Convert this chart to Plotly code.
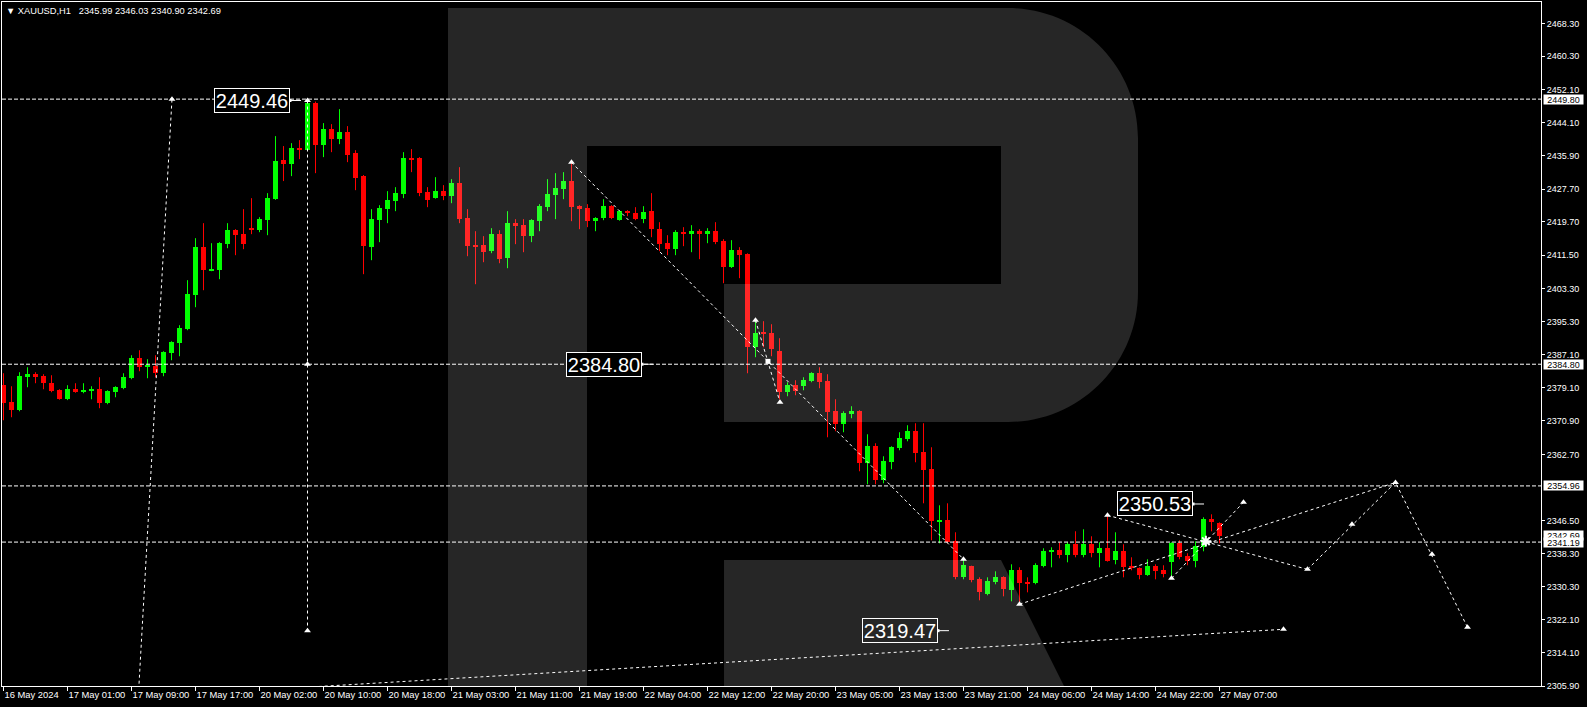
import plotly.graph_objects as go

# ---------------- data ----------------
opens = [2379.65,2375.48,2373.52,2381.61,2382.35,2381.86,2380.14,2378.42,2376.21,2378.67,
         2377.93,2378.18,2378.67,2375.23,2377.93,2378.91,2381.37,2386.27,2384.06,2384.31,
         2382.59,2387.50,2389.95,2393.39,2401.73,2413.50,2407.86,2407.86,2414.24,2417.67,
         2416.69,2418.16,2417.67,2420.12,2425.27,2434.84,2433.86,2437.78,2437.29,2448.80,
         2438.52,2442.45,2440.00,2441.71,2436.56,2430.92,2413.50,2420.12,2422.82,2424.78,
         2426.50,2435.33,2435.33,2426.99,2425.52,2427.24,2426.01,2429.20,2420.61,2413.99,
         2413.99,2412.52,2416.69,2410.80,2419.39,2418.90,2416.20,2419.88,2423.31,2426.26,
         2427.73,2429.69,2423.56,2423.07,2419.88,2420.61,2423.56,2420.12,2422.33,2421.84,
         2420.37,2422.33,2417.92,2414.48,2413.01,2417.18,2416.93,2417.42,2416.93,2417.42,
         2414.97,2408.59,2412.76,2411.78,2388.97,2392.50,2392.40,2387.99,2377.93,2379.65,
         2379.40,2380.63,2382.59,2380.63,2373.27,2370.08,2372.54,2373.27,2360.52,2364.69,
         2356.35,2360.76,2364.20,2366.40,2368.37,2363.21,2359.04,2346.29,2346.53,2341.38,
         2332.55,2335.25,2332.06,2328.38,2331.33,2332.55,2329.36,2334.27,2331.33,2331.08,
         2335.25,2338.68,2339.18,2337.95,2340.65,2337.95,2340.65,2338.44,2339.67,2336.72,
         2338.93,2335.25,2334.76,2333.04,2335.25,2334.27,2336.23,2340.89,2337.70,2336.48,
         2339.91,2346.78,2345.99]
highs = [2382.59,2379.40,2382.84,2384.06,2382.84,2382.35,2382.10,2378.67,2379.65,2380.14,
         2380.14,2379.40,2381.61,2378.42,2379.40,2382.59,2387.01,2388.23,2386.03,2387.01,
         2387.99,2390.44,2394.37,2405.41,2415.71,2419.39,2414.48,2414.73,2419.39,2417.92,
         2422.82,2425.52,2420.86,2426.75,2440.73,2438.29,2439.01,2439.75,2449.46,2449.20,
         2443.92,2443.67,2447.35,2443.18,2437.29,2431.20,2422.82,2423.80,2427.24,2428.22,
         2436.80,2437.54,2435.58,2428.22,2430.67,2428.71,2430.18,2433.12,2422.82,2417.42,
         2416.20,2418.16,2417.67,2422.33,2420.37,2420.37,2420.37,2424.05,2430.18,2431.65,
         2431.90,2434.30,2423.80,2424.05,2420.86,2425.27,2423.80,2422.57,2422.57,2423.31,
         2423.56,2426.75,2419.63,2416.44,2417.67,2418.41,2418.90,2417.92,2418.16,2419.63,
         2415.46,2415.22,2413.50,2412.00,2395.35,2395.35,2394.61,2391.18,2380.38,2380.88,
         2381.61,2382.84,2384.06,2382.35,2376.21,2373.27,2374.50,2373.52,2367.63,2365.42,
         2362.23,2364.69,2368.12,2369.84,2370.33,2370.33,2364.44,2350.21,2350.70,2343.59,
         2337.21,2335.40,2332.55,2332.55,2334.02,2332.80,2335.74,2335.00,2332.55,2335.99,
         2339.67,2339.91,2341.14,2341.14,2343.84,2344.33,2342.61,2341.14,2347.76,2343.59,
         2340.65,2337.46,2335.00,2336.97,2335.74,2335.50,2341.14,2341.63,2338.44,2341.38,
         2347.27,2348.00,2346.03]
lows = [2371.06,2371.80,2373.27,2379.16,2380.14,2378.67,2377.93,2376.10,2376.00,2377.80,
        2377.69,2376.21,2374.01,2374.99,2376.70,2378.67,2381.12,2383.08,2381.37,2381.61,
        2381.86,2385.78,2386.76,2393.14,2398.78,2402.95,2407.61,2405.65,2413.25,2411.54,
        2413.01,2416.69,2417.18,2416.44,2425.10,2429.71,2430.92,2435.09,2437.20,2431.65,
        2435.58,2436.80,2438.77,2434.35,2427.48,2406.88,2410.31,2414.73,2419.39,2422.33,
        2425.52,2431.90,2426.01,2423.31,2425.40,2425.03,2424.29,2419.39,2411.29,2404.42,
        2409.82,2412.03,2409.57,2408.35,2414.24,2412.27,2414.73,2417.42,2422.33,2420.37,
        2425.27,2419.88,2417.92,2418.41,2417.42,2420.12,2420.37,2420.00,2421.10,2420.12,
        2419.39,2415.95,2412.52,2411.54,2411.54,2413.75,2412.27,2410.56,2414.48,2414.24,
        2404.67,2408.40,2405.90,2382.59,2386.52,2388.97,2386.76,2376.20,2376.95,2377.20,
        2378.42,2380.38,2378.91,2366.89,2368.37,2368.12,2371.55,2358.55,2355.36,2355.36,
        2355.61,2359.04,2363.70,2365.91,2360.76,2350.70,2341.63,2340.89,2340.89,2332.06,
        2332.06,2331.33,2326.91,2328.14,2330.84,2327.89,2326.67,2325.95,2328.87,2330.84,
        2335.00,2335.00,2337.21,2336.23,2337.46,2337.46,2337.46,2335.00,2336.40,2335.74,
        2332.55,2334.27,2332.06,2332.90,2332.06,2332.55,2332.30,2336.97,2335.50,2335.00,
        2338.93,2343.84,2340.90]
closes = [2375.23,2373.52,2381.86,2382.35,2381.61,2380.14,2378.18,2376.21,2378.67,2377.93,
          2378.42,2378.67,2375.23,2378.18,2379.16,2381.61,2386.27,2384.06,2384.55,2382.59,
          2387.74,2390.20,2393.63,2401.97,2413.50,2407.86,2408.10,2414.48,2417.67,2416.44,
          2414.24,2417.67,2420.37,2425.52,2434.60,2433.86,2437.78,2437.29,2448.80,2438.52,
          2442.45,2440.00,2441.71,2436.07,2430.43,2413.75,2420.37,2423.07,2425.03,2426.75,
          2435.33,2435.09,2426.75,2425.03,2427.24,2426.01,2429.20,2420.37,2413.75,2413.75,
          2412.27,2416.69,2410.56,2419.39,2418.65,2416.20,2420.12,2423.56,2426.50,2427.97,
          2429.69,2423.31,2422.82,2419.88,2420.61,2423.56,2420.61,2422.33,2421.84,2420.37,
          2422.08,2417.92,2414.24,2413.01,2417.18,2416.93,2417.42,2416.93,2417.42,2414.73,
          2408.59,2412.76,2411.54,2388.97,2392.40,2392.30,2388.48,2377.93,2379.65,2378.18,
          2380.88,2382.59,2380.38,2373.03,2370.08,2372.78,2373.27,2360.52,2364.69,2356.35,
          2361.01,2364.44,2366.65,2368.37,2362.97,2358.80,2346.29,2346.53,2341.14,2332.55,
          2335.50,2331.82,2328.87,2331.57,2332.55,2329.61,2334.27,2331.08,2331.08,2335.50,
          2338.93,2339.18,2337.95,2340.65,2337.95,2340.65,2338.44,2339.67,2336.48,2338.93,
          2335.00,2334.76,2333.04,2335.25,2334.02,2333.29,2340.89,2337.46,2336.48,2340.16,
          2346.78,2346.30,2342.69]

x_tick_labels = ["16 May 2024", "17 May 01:00", "17 May 09:00", "17 May 17:00", "20 May 02:00",
                 "20 May 10:00", "20 May 18:00", "21 May 03:00", "21 May 11:00", "21 May 19:00",
                 "22 May 04:00", "22 May 12:00", "22 May 20:00", "23 May 05:00", "23 May 13:00",
                 "23 May 21:00", "24 May 06:00", "24 May 14:00", "24 May 22:00", "27 May 07:00"]
x_tick_step = 8

y_tick_values = [2468.30, 2460.30, 2452.10, 2444.10, 2435.90, 2427.70, 2419.70, 2411.50, 2403.30,
                 2395.30, 2387.10, 2379.10, 2370.90, 2362.70, 2346.50, 2338.30, 2330.30,
                 2322.10, 2314.10, 2305.90]

h_levels = [2449.80, 2384.80, 2354.96, 2341.19]          # dashed horizontal lines
axis_value_boxes = [2449.80, 2384.80, 2354.96, 2342.69, 2341.19]

big_label_text = ["2449.46", "2384.80", "2350.53", "2319.47"]
big_label_price = [2449.46, 2384.80, 2350.53, 2319.47]
big_label_bar = [35.81, 79.81, 148.69, 116.81]

# dotted analysis lines: (bar positions, prices)
trend_lines = [
    ([16.9, 21.06], [2305.0, 2449.80]),
    ([38.0, 38.0], [2449.46, 2319.47]),
    ([71.0, 120.0], [2434.30, 2337.00]),
    ([94.0, 97.06], [2395.60, 2375.50]),
    ([127.0, 174.0], [2325.95, 2355.80]),
    ([138.0, 163.0], [2347.76, 2334.50]),
    ([146.0, 155.0], [2332.30, 2350.95]),
    ([163.0, 174.0, 183.0], [2334.50, 2355.80, 2320.30]),
    ([37.9, 160.0], [2305.60, 2319.80]),
]
arrow_bars = [21.06, 38.0, 38.0, 38.0, 71.0, 120.0, 94.0, 97.06, 127.0, 174.0, 138.0, 163.0,
              146.0, 155.0, 168.56, 178.56, 183.0, 160.0]
arrow_prices = [2449.80, 2449.46, 2384.80, 2319.47, 2434.30, 2337.00, 2395.60, 2375.50, 2325.95,
                2355.80, 2347.76, 2334.50, 2332.30, 2350.95, 2345.55, 2338.20, 2320.30, 2319.80]
square_bars = [95.56]
square_prices = [2385.50]
hub_bar = [150.3]
hub_price = [2341.40]

title_text = "▼ XAUUSD,H1\u00a0\u00a0 2345.99 2346.03 2340.90 2342.69"

# ---------------- figure ----------------
W, H = 1587, 707
ML, MR, MT, MB = 2, 46, 2, 21
PW, PH = W - ML - MR, H - MT - MB
FONT = "Liberation Sans, Arial, sans-serif"
GREEN, RED = "#00ff00", "#ff0000"

n = len(opens)
idx = list(range(n))
fig = go.Figure()

for up, col in ((True, GREEN), (False, RED)):
    xs, base, hgt, wx, wy = [], [], [], [], []
    for i in idx:
        if (closes[i] >= opens[i]) == up:
            lo, hi = min(opens[i], closes[i]), max(opens[i], closes[i])
            xs.append(i)
            base.append(lo)
            hgt.append(max(hi - lo, 0.25))
            wx += [i, i, None]
            wy += [lows[i], highs[i], None]
    fig.add_trace(go.Scatter(x=wx, y=wy, mode="lines", line=dict(color=col, width=1),
                             hoverinfo="skip", showlegend=False))
    fig.add_trace(go.Bar(x=xs, y=hgt, base=base, width=0.625,
                         marker=dict(color=col, line=dict(width=0)),
                         hoverinfo="skip", showlegend=False))

for bx, py in trend_lines:
    fig.add_trace(go.Scatter(x=bx, y=py, mode="lines",
                             line=dict(color="white", width=1, dash="3px,3px"),
                             hoverinfo="skip", showlegend=False))

fig.add_trace(go.Scatter(x=arrow_bars, y=arrow_prices, mode="markers",
                         marker=dict(symbol="triangle-up", size=6, color="white"),
                         hoverinfo="skip", showlegend=False))
fig.add_trace(go.Scatter(x=square_bars, y=square_prices, mode="markers",
                         marker=dict(symbol="square", size=5, color="white"),
                         hoverinfo="skip", showlegend=False))
fig.add_trace(go.Scatter(x=hub_bar, y=hub_price, mode="markers",
                         marker=dict(symbol="asterisk-open", size=9, color="white",
                                     line=dict(color="white", width=2)),
                         hoverinfo="skip", showlegend=False))
fig.add_trace(go.Scatter(x=big_label_bar, y=big_label_price, mode="markers",
                         marker=dict(symbol="square", size=3, color="white"),
                         hoverinfo="skip", showlegend=False))


# ---------------- logo watermark (pixel geometry -> paper) ----------------
def P(px, py):
    return f"{(px - ML) / PW:.5f},{(MT + PH - py) / PH:.5f}"


r = 130
k = 0.552 * r
logo_main = (f"M {P(448, 8)} L {P(1008, 8)} "
             f"C {P(1008 + k, 8)} {P(1138, 138 - k)} {P(1138, 138)} "
             f"L {P(1138, 292)} C {P(1138, 292 + k)} {P(1008 + k, 422)} {P(1008, 422)} "
             f"L {P(724, 422)} L {P(724, 284)} L {P(1001, 284)} L {P(1001, 146)} "
             f"L {P(587, 146)} L {P(587, 686)} L {P(448, 686)} Z")
logo_leg = f"M {P(724, 560)} L {P(1001, 560)} L {P(1064, 686)} L {P(724, 686)} Z"
shapes = []
for pth in (logo_main, logo_leg):
    shapes.append(dict(type="path", path=pth, xref="paper", yref="paper",
                       fillcolor="rgba(255,255,255,0.149)", line=dict(width=0), layer="above"))

for lv in h_levels:
    shapes.append(dict(type="line", xref="paper", x0=0, x1=1, yref="y", y0=lv, y1=lv,
                       line=dict(color="white", width=1, dash="4px,2px"), layer="above"))

for bx, py in zip(big_label_bar, big_label_price):
    shapes.append(dict(type="line", xref="x", xsizemode="pixel", xanchor=bx, x0=0, x1=11,
                       yref="y", y0=py, y1=py, line=dict(color="white", width=1), layer="above"))

annotations = []
for txt, bx, py in zip(big_label_text, big_label_bar, big_label_price):
    annotations.append(dict(x=bx, y=py, xref="x", yref="y", text=txt, showarrow=False,
                            xanchor="right", yanchor="middle", width=74, height=23,
                            bordercolor="white", borderwidth=1, borderpad=0,
                            bgcolor="#262626" if py < 2330 else "black",
                            font=dict(family=FONT, size=20, color="white")))

for v in axis_value_boxes:
    annotations.append(dict(x=(1543 - ML) / PW, y=v, xref="paper", yref="y", text=f"{v:.2f}",
                            showarrow=False, xanchor="left", yanchor="middle", width=39, height=9,
                            bgcolor="white", borderpad=0,
                            font=dict(family=FONT, size=9, color="black")))

annotations.append(dict(x=(4 - ML) / PW, y=(MT + PH - 11) / PH, xref="paper", yref="paper",
                        text=title_text, showarrow=False, xanchor="left", yanchor="middle",
                        font=dict(family=FONT, size=9.3, color="white")))

tick_idx = list(range(0, n, x_tick_step))

fig.update_layout(
    width=W, height=H,
    margin=dict(l=ML, r=MR, t=MT, b=MB, pad=0, autoexpand=False),
    paper_bgcolor="black", plot_bgcolor="black",
    barmode="overlay", bargap=0, showlegend=False,
    shapes=shapes, annotations=annotations,
    font=dict(family=FONT, size=9.4, color="white"),
    xaxis=dict(range=[-0.1875, 192.1875], showgrid=False, zeroline=False, automargin=False,
               showline=True, linecolor="white", linewidth=1, mirror=True,
               tickmode="array", tickvals=tick_idx, ticktext=x_tick_labels, tickangle=0,
               ticks="outside", ticklen=4, tickcolor="white", tickwidth=1,
               ticklabelposition="outside right",
               tickfont=dict(family=FONT, size=9.4, color="white")),
    yaxis=dict(range=[2305.90, 2473.62], side="right", showgrid=False, zeroline=False,
               automargin=False,
               showline=True, linecolor="white", linewidth=1, mirror=True,
               tickmode="array", tickvals=y_tick_values,
               ticktext=[f"{v:.2f}" for v in y_tick_values],
               ticks="outside", ticklen=3, tickcolor="white", tickwidth=1,
               tickfont=dict(family=FONT, size=9, color="white")),
)

fig.write_html("out.html", config={"displayModeBar": False},
               post_script="document.body.style.margin='0';")
